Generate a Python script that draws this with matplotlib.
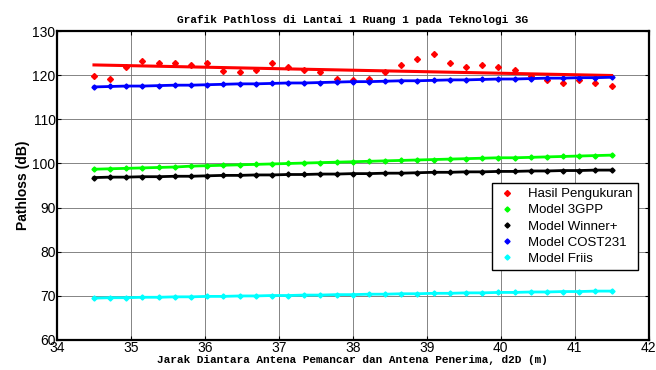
import numpy as np
import matplotlib
matplotlib.use('Agg')
import matplotlib.pyplot as plt

# distance between transmitter and receiver antennas (m)
jarak = np.linspace(34.5, 41.5, 33)

# measured pathloss (dB)
hasil_ukur = [119.8, 119.2, 121.9, 123.4, 122.8, 122.8, 122.3, 122.8, 121.1, 120.8, 121.3,
              122.8, 121.9, 121.3, 120.8, 119.2, 118.9, 119.2, 120.8, 122.3, 123.8, 124.8,
              122.8, 121.9, 122.3, 121.9, 121.3, 119.8, 118.9, 118.3, 118.9, 118.3, 117.7]

# trend line through the measurements
fit_x = [34.5, 41.5]
fit_y = [122.4, 120.0]

model_3gpp = [98.7, 98.8, 98.9, 99.0, 99.1, 99.2, 99.4, 99.5, 99.6, 99.7, 99.8,
              99.9, 100.0, 100.1, 100.2, 100.3, 100.4, 100.5, 100.6, 100.7, 100.8, 100.9,
              101.0, 101.1, 101.2, 101.3, 101.3, 101.4, 101.5, 101.6, 101.7, 101.8, 101.9]

model_winner = [96.8, 96.9, 96.9, 97.0, 97.0, 97.1, 97.1, 97.2, 97.3, 97.3, 97.4,
                97.4, 97.5, 97.5, 97.6, 97.6, 97.7, 97.7, 97.8, 97.8, 97.9, 98.0,
                98.0, 98.1, 98.1, 98.2, 98.2, 98.3, 98.3, 98.4, 98.4, 98.5, 98.5]

model_cost231 = [117.4, 117.5, 117.6, 117.6, 117.7, 117.8, 117.8, 117.9, 118.0, 118.1, 118.1,
                 118.2, 118.3, 118.3, 118.4, 118.5, 118.6, 118.6, 118.7, 118.8, 118.8, 118.9,
                 119.0, 119.0, 119.1, 119.2, 119.2, 119.3, 119.4, 119.4, 119.5, 119.5, 119.6]

model_friis = [69.4, 69.5, 69.5, 69.6, 69.6, 69.7, 69.7, 69.8, 69.8, 69.9, 69.9,
               70.0, 70.0, 70.1, 70.1, 70.2, 70.2, 70.3, 70.3, 70.4, 70.4, 70.5,
               70.5, 70.6, 70.6, 70.7, 70.7, 70.8, 70.8, 70.9, 70.9, 71.0, 71.0]

nama = ['Hasil Pengukuran', 'Model 3GPP', 'Model Winner+', 'Model COST231', 'Model Friis']
warna = ['#ff0000', '#00ff00', '#000000', '#0000ff', '#00ffff']

plt.rcParams['font.family'] = ['Liberation Sans', 'DejaVu Sans']

fig = plt.figure(figsize=(6.56, 3.70), dpi=100)
ax = fig.add_axes([0.0869, 0.0824, 0.9017, 0.8325])

# markers first so the legend only shows the dots
ax.plot(jarak, hasil_ukur, 'D', color=warna[0], ms=3, mec=warna[0], label=nama[0])
model_list = [model_3gpp, model_winner, model_cost231, model_friis]
for i, m in enumerate(model_list):
    ax.plot(jarak, m, 'D', color=warna[i + 1], ms=2.6, label=nama[i + 1])

# lines
ax.plot(fit_x, fit_y, '-', color=warna[0], lw=2.2)
for i, m in enumerate(model_list):
    ax.plot(jarak, m, '-', color=warna[i + 1], lw=2.0)

ax.set_xlim(34, 42)
ax.set_ylim(60, 130)
ax.set_xticks(np.arange(34, 43, 1))
ax.set_yticks(np.arange(60, 131, 10))
ax.grid(True, color='#707070', lw=0.6, ls='-')
ax.set_axisbelow(True)
ax.tick_params(direction='in', top=True, right=True, labelsize=10, length=3, pad=1)
for s in ax.spines.values():
    s.set_linewidth(1.6)

ax.set_title('Grafik Pathloss di Lantai 1 Ruang 1 pada Teknologi 3G',
             family='Liberation Mono', weight='bold', fontsize=8, pad=6)
ax.set_xlabel('Jarak Diantara Antena Pemancar dan Antena Penerima, d2D (m)',
              family='Liberation Mono', weight='bold', fontsize=8, labelpad=0)
ax.set_ylabel('Pathloss (dB)', weight='bold', fontsize=10, labelpad=2)

leg = ax.legend(loc='upper left', bbox_to_anchor=(0.729, 0.52), fontsize=9.5,
                fancybox=False, edgecolor='black', framealpha=1, handlelength=1.6,
                borderpad=0.35, labelspacing=0.3, handletextpad=0.8, markerscale=1,
                borderaxespad=0.3)
leg.get_frame().set_linewidth(1.0)

fig.savefig('out.png', dpi=100)
